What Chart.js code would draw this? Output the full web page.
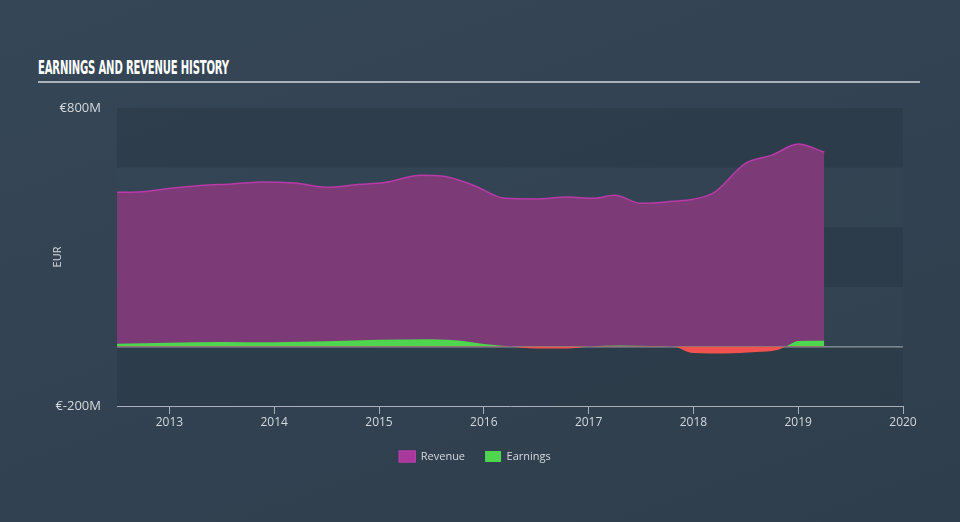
<!DOCTYPE html>
<html lang="en">
<head>
    <meta charset="UTF-8">
    <title>Earnings and Revenue History</title>
    <script src="https://cdn.jsdelivr.net/npm/chart.js"></script>
    <style>
        html, body {
            margin: 0;
            padding: 0;
            width: 960px;
            height: 522px;
            overflow: hidden;
            background: linear-gradient(160deg, #354656 0%, #324252 50%, #2f3e4c 100%);
            font-family: 'Open Sans', sans-serif;
        }

        .title {
            position: absolute;
            left: 38px;
            top: 56px;
            color: #fff;
            font-family: 'Liberation Sans Narrow', 'DejaVu Sans Condensed', sans-serif;
            font-weight: bold;
            font-size: 19px;
            letter-spacing: -0.3px;
            transform-origin: left top;
            white-space: nowrap;
        }

        .rule {
            position: absolute;
            left: 38px;
            top: 81px;
            width: 882px;
            height: 2px;
            background: #a9b1b9;
        }

        #chart {
            position: absolute;
            left: 0;
            top: 0;
        }
    </style>
</head>
<body>
    <div class="title" id="title">EARNINGS AND REVENUE HISTORY</div>
    <div class="rule"></div>
    <canvas id="chart" width="960" height="522"></canvas>

    <script>
        // values in EUR millions, x in decimal years
        const revenueYears = [2012.5, 2012.7, 2013.0, 2013.3, 2013.6, 2013.9, 2014.2, 2014.5, 2014.8, 2015.05,
            2015.4, 2015.6, 2015.9, 2016.2, 2016.5, 2016.8, 2017.05, 2017.25, 2017.5, 2017.8,
            2018.0, 2018.2, 2018.5, 2018.75, 2019.0, 2019.25];
        const revenue = [517, 518, 530, 540, 545, 552, 548, 534, 543, 550,
            574, 572, 541, 497, 495, 501, 497, 507, 480, 487,
            494, 517, 615, 642, 679, 652];

        const earningsYears = [2012.5, 2013.0, 2013.5, 2014.0, 2014.5, 2015.0, 2015.5, 2015.8, 2016.0, 2016.25,
            2016.5, 2016.8, 2017.0, 2017.3, 2017.6, 2017.8, 2018.0, 2018.3, 2018.6, 2018.8,
            2018.9, 2019.0, 2019.25];
        const earnings = [9, 12, 15, 14, 17, 22, 24, 18, 8, 0,
            -7, -7, 0, 3, 1, 0, -22, -24, -19, -12,
            3, 18, 19];

        const xTicks = [2013, 2014, 2015, 2016, 2017, 2018, 2019, 2020];
        const yTicks = [-200, 800];
        const yTickText = ['€-200M', '€800M'];

        // fit the title into its original width
        const titleEl = document.getElementById('title');
        titleEl.style.transform = 'scaleX(' + (191 / titleEl.offsetWidth) + ')';

        const toPoints = (xs, ys) => xs.map((x, i) => ({ x: x, y: ys[i] }));

        // alternating background bands behind the plot
        const bandsPlugin = {
            id: 'bands',
            beforeDatasetsDraw(chart) {
                const { ctx, chartArea, scales } = chart;
                const y = scales.y;
                ctx.save();
                for (let v = -200; v < 800; v += 200) {
                    const top = y.getPixelForValue(v + 200);
                    const bottom = y.getPixelForValue(v);
                    const dark = ((v + 200) / 200) % 2 === 0;
                    ctx.fillStyle = dark ? 'rgba(42, 56, 70, 0.55)' : 'rgba(56, 74, 90, 0.2)';
                    ctx.fillRect(chartArea.left, top, chartArea.right - chartArea.left, bottom - top);
                }
                // zero line
                const z = y.getPixelForValue(0);
                ctx.strokeStyle = '#a8b0b6';
                ctx.lineWidth = 1;
                ctx.beginPath();
                ctx.moveTo(chartArea.left, z + 0.5);
                ctx.lineTo(chartArea.right, z + 0.5);
                ctx.stroke();
                ctx.restore();
            }
        };

        const ctx = document.getElementById('chart').getContext('2d');
        const chart = new Chart(ctx, {
            type: 'line',
            data: {
                datasets: [{
                    label: 'Earnings',
                    data: toPoints(earningsYears, earnings),
                    borderColor: 'rgba(0,0,0,0)',
                    borderWidth: 0,
                    backgroundColor: '#4fd64f',
                    fill: { target: 'origin', above: '#4fd64f', below: '#f2524f' },
                    pointRadius: 0,
                    cubicInterpolationMode: 'monotone'
                }, {
                    label: 'Revenue',
                    data: toPoints(revenueYears, revenue),
                    borderColor: '#b93aa8',
                    borderWidth: 1.5,
                    backgroundColor: '#a8399c',
                    fill: { target: 'origin', above: '#7c3a77' },
                    pointRadius: 0,
                    cubicInterpolationMode: 'monotone'
                }]
            },
            options: {
                responsive: false,
                animation: false,
                layout: {
                    padding: { left: 47, right: 57, top: 108, bottom: 50 }
                },
                scales: {
                    x: {
                        type: 'linear',
                        min: 2012.5,
                        max: 2020,
                        afterBuildTicks: scale => {
                            scale.ticks = xTicks.map(v => ({ value: v }));
                        },
                        afterFit: scale => { scale.height = 25; },
                        ticks: {
                            color: '#d5d9dd',
                            font: { family: 'Open Sans', size: 12 },
                            padding: 1,
                            maxRotation: 0,
                            callback: v => String(v)
                        },
                        grid: {
                            drawOnChartArea: false,
                            drawTicks: true,
                            tickLength: 8,
                            color: '#a8b0b6'
                        },
                        border: { display: true, color: '#a8b0b6', width: 1 }
                    },
                    y: {
                        min: -200,
                        max: 800,
                        afterBuildTicks: scale => {
                            scale.ticks = yTicks.map(v => ({ value: v }));
                        },
                        afterFit: scale => { scale.width = 70; },
                        ticks: {
                            color: '#d5d9dd',
                            font: { family: 'Open Sans', size: 13 },
                            padding: 8,
                            callback: v => yTickText[yTicks.indexOf(v)]
                        },
                        grid: { display: false },
                        border: { display: false },
                        title: {
                            display: true,
                            text: 'EUR',
                            color: '#d5d9dd',
                            font: { family: 'Open Sans', size: 11 },
                            padding: 4
                        }
                    }
                },
                plugins: {
                    legend: {
                        position: 'bottom',
                        reverse: true,
                        labels: {
                            color: '#d5d9dd',
                            font: { family: 'Open Sans', size: 11 },
                            boxWidth: 16,
                            boxHeight: 11,
                            padding: 20
                        }
                    },
                    tooltip: { enabled: false }
                }
            },
            plugins: [bandsPlugin]
        });
    </script>
</body>
</html>
